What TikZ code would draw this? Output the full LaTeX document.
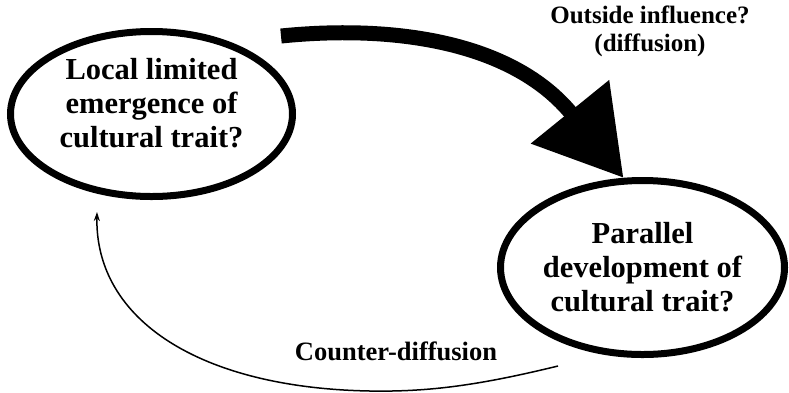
\documentclass[tikz,border=0pt]{standalone}
\usepackage{fontspec}
\setmainfont{Liberation Serif}
\usetikzlibrary{shapes.geometric, arrows.meta, positioning}
\tikzset{
  trait/.style={ellipse, draw, line width=7pt, inner sep=0pt, align=center,
    font=\fontsize{30.5}{34}\selectfont\bfseries},
  note/.style={align=center, font=\fontsize{25}{28}\selectfont\bfseries},
  diffusion/.style={line width=15pt, -{Triangle[length=85pt,width=97pt]}},
  counter/.style={line width=1.5pt, -{Stealth[length=9pt,width=6pt]}},
}

\begin{document}
\begin{tikzpicture}[x=1pt, y=-1pt]
  \useasboundingbox (0,0) rectangle (789,392);

  \node[trait, minimum width=282pt, minimum height=165pt, text depth=22pt] (local) at (151.5,114)
    {Local limited\\emergence of\\cultural trait?};
  \node[trait, minimum width=284pt, minimum height=174pt] (parallel) at (642.5,267.5)
    {Parallel\\development of\\cultural trait?};

  \node[note] (outside) at (650,31) {Outside influence?\\(diffusion)};
  \node[note, font=\fontsize{26.5}{28}\selectfont\bfseries] (countertext) at (396,351) {Counter-diffusion};

  \coordinate (spreadstart) at (281,36);
  \coordinate (counterstart) at (558,366);
  \coordinate (counterend) at (97,212);

  \draw[diffusion] (spreadstart) .. controls (400,24) and (515,44) .. (parallel.102);
  \draw[counter] (counterstart) .. controls (480,385) and (430,392) .. (370,391)
    .. controls (200,388) and (95,320) .. (counterend);
\end{tikzpicture}
\end{document}
